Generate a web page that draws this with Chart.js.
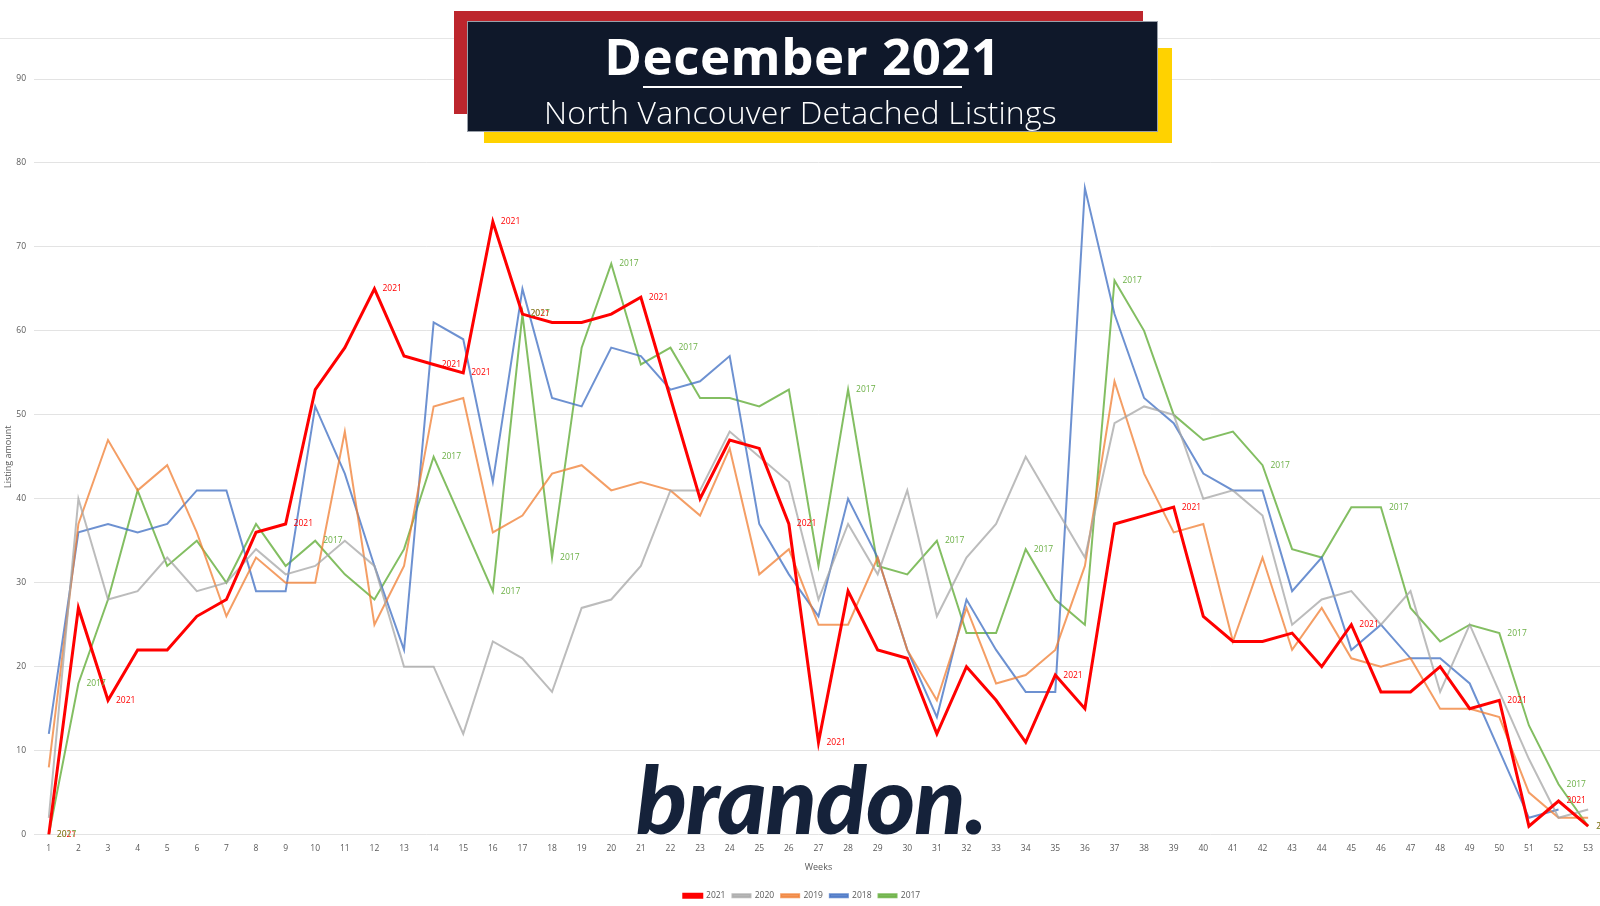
<!DOCTYPE html>
<html>
<head>
<meta charset="utf-8">
<script src="https://cdn.jsdelivr.net/npm/chart.js@4"></script>
<style>
    html, body { margin: 0; padding: 0; overflow: hidden; background: #fff; }
    body { width: 1600px; height: 906px; position: relative; }
    #wrap { position: absolute; left: 0; top: 0; width: 1604px; height: 910px; }
    .topline { position: absolute; left: 0; top: 38px; width: 1600px; height: 1px; background: #e6e6e6; }
    .box { position: absolute; }
    .red { left: 454px; top: 11px; width: 689px; height: 103px; background: #bd262d; }
    .yellow { left: 484px; top: 48px; width: 688px; height: 95px; background: #ffd200; }
    .navy { left: 468px; top: 22px; width: 689px; height: 109px; background: #0f182a; box-shadow: 0 0 0 1px #9aa0aa; }
    .title { position: absolute; left: 458px; width: 689px; top: 22px; text-align: center; color: #fff;
             font-family: "Open Sans", sans-serif; font-weight: 700; font-size: 51px; line-height: 66px; letter-spacing: 0.5px; }
    .rule { position: absolute; left: 643px; top: 86px; width: 319px; height: 2px; background: #fff; }
    .sub { position: absolute; left: 446px; width: 709px; top: 92px; text-align: center; color: #fff;
           font-family: "Open Sans", sans-serif; font-weight: 300; font-size: 32px; line-height: 40px; letter-spacing: 0.2px; }
    .brand { position: absolute; left: 636px; top: 743px; color: #15223a; font-family: Lato, sans-serif;
             font-style: italic; font-weight: 900; font-size: 94px; line-height: 110px; letter-spacing: -1px; }
</style>
</head>
<body>
<div class="topline"></div>
<div id="wrap"><canvas id="listingsChart"></canvas></div>
<div class="box red"></div>
<div class="box yellow"></div>
<div class="box navy"></div>
<div class="title">December 2021</div>
<div class="rule"></div>
<div class="sub">North Vancouver Detached Listings</div>
<div class="brand">brandon.</div>

<script>
// weekly listing counts
const weeks = ["1","2","3","4","5","6","7","8","9","10","11","12","13","14","15","16","17","18","19","20",
    "21","22","23","24","25","26","27","28","29","30","31","32","33","34","35","36","37","38","39","40",
    "41","42","43","44","45","46","47","48","49","50","51","52","53"];

const listings2021 = [0,27,16,22,22,26,28,36,37,53, 58,65,57,56,55,73,62,61,61,62,
    64,52,40,47,46,37,11,29,22,21, 12,20,16,11,19,15,37,38,39,26, 23,23,24,20,25,17,17,20,15,16, 1,4,1];
const listings2020 = [2,40,28,29,33,29,30,34,31,32, 35,32,20,20,12,23,21,17,27,28,
    32,41,41,48,45,42,28,37,31,41, 26,33,37,45,39,33,49,51,50,40, 41,38,25,28,29,25,29,17,25,17, 9,2,3];
const listings2019 = [8,37,47,41,44,36,26,33,30,30, 48,25,32,51,52,36,38,43,44,41,
    42,41,38,46,31,34,25,25,33,22, 16,27,18,19,22,32,54,43,36,37, 23,33,22,27,21,20,21,15,15,14, 5,2,2];
const listings2018 = [12,36,37,36,37,41,41,29,29,51, 43,32,22,61,59,42,65,52,51,58,
    57,53,54,57,37,31,26,40,33,22, 14,28,22,17,17,77,62,52,49,43, 41,41,29,33,22,25,21,21,18,10, 2,3,null];
const listings2017 = [0,18,28,41,32,35,30,37,32,35, 31,28,34,45,37,29,62,33,58,68,
    56,58,52,52,51,53,32,53,32,31, 35,24,24,34,28,25,66,60,50,47, 48,44,34,33,39,39,27,23,25,24, 13,6,1];

// weeks that carry a year data label in the original
const labelWeeks2021 = [1,3,9,12,14,15,16,17,21,26,27,35,39,45,50,52,53];
const labelWeeks2017 = [1,2,10,14,16,17,18,20,22,28,31,34,37,42,46,50,52,53];

const yTicks = [0,10,20,30,40,50,60,70,80,90];

// draws the "2021" / "2017" point labels to the right of selected points
const pointLabels = {
    id: "pointLabels",
    afterDatasetsDraw(chart) {
        const ctx = chart.ctx;
        const x = chart.scales.x, y = chart.scales.y;
        const groups = [
            { weeks: labelWeeks2021, data: listings2021, text: "2021", color: "#ff0000" },
            { weeks: labelWeeks2017, data: listings2017, text: "2017", color: "#6cb046" }
        ];
        ctx.save();
        ctx.font = "8.5px 'Open Sans', sans-serif";
        ctx.textBaseline = "middle";
        ctx.textAlign = "left";
        groups.forEach(g => {
            ctx.fillStyle = g.color;
            g.weeks.forEach(w => {
                const v = g.data[w - 1];
                if (v === null) return;
                ctx.fillText(g.text, x.getPixelForValue(w - 1) + 8, y.getPixelForValue(v));
            });
        });
        ctx.restore();
    }
};

function lineSet(label, data, color, width) {
    return {
        label: label,
        data: data,
        borderColor: color,
        backgroundColor: color,
        borderWidth: width,
        pointRadius: 0,
        tension: 0,
        fill: false
    };
}

new Chart(document.getElementById("listingsChart"), {
    type: "line",
    data: {
        labels: weeks,
        datasets: [
            lineSet("2021", listings2021, "#ff0000", 3),
            lineSet("2020", listings2020, "rgba(165,165,165,0.75)", 2),
            lineSet("2019", listings2019, "rgba(240,125,49,0.75)", 2),
            lineSet("2018", listings2018, "rgba(68,114,196,0.78)", 2),
            lineSet("2017", listings2017, "rgba(104,176,64,0.82)", 2)
        ]
    },
    plugins: [pointLabels],
    options: {
        responsive: true,
        maintainAspectRatio: false,
        animation: false,
        layout: { padding: { top: 79, right: 0, bottom: 0, left: 0 } },
        plugins: {
            legend: {
                position: "bottom",
                labels: {
                    boxWidth: 18,
                    boxHeight: 3,
                    padding: 7,
                    color: "#595959",
                    font: { family: "Open Sans", size: 8.5 }
                }
            },
            tooltip: { enabled: false }
        },
        scales: {
            x: {
                offset: true,
                grid: { display: false, drawTicks: false },
                border: { display: false },
                ticks: { color: "#595959", padding: 11, maxRotation: 0, autoSkip: false,
                         font: { family: "Open Sans", size: 8.5, lineHeight: 0.6 } },
                title: { display: true, text: "Weeks", color: "#595959", padding: { top: 0, bottom: 12 },
                         font: { family: "Open Sans", size: 9 } }
            },
            y: {
                min: 0,
                max: 90,
                afterBuildTicks: (scale) => { scale.ticks = yTicks.map(v => ({ value: v })); },
                afterFit: (scale) => { scale.width = 34; },
                grid: { color: "#e3e3e3", lineWidth: 1, drawTicks: false },
                border: { display: false },
                ticks: { color: "#595959", padding: 8, font: { family: "Open Sans", size: 8.5 } },
                title: { display: true, text: "Listing amount", color: "#595959", padding: { top: 3, bottom: 0 },
                         font: { family: "Open Sans", size: 9 } }
            }
        }
    }
});
</script>
</body>
</html>
